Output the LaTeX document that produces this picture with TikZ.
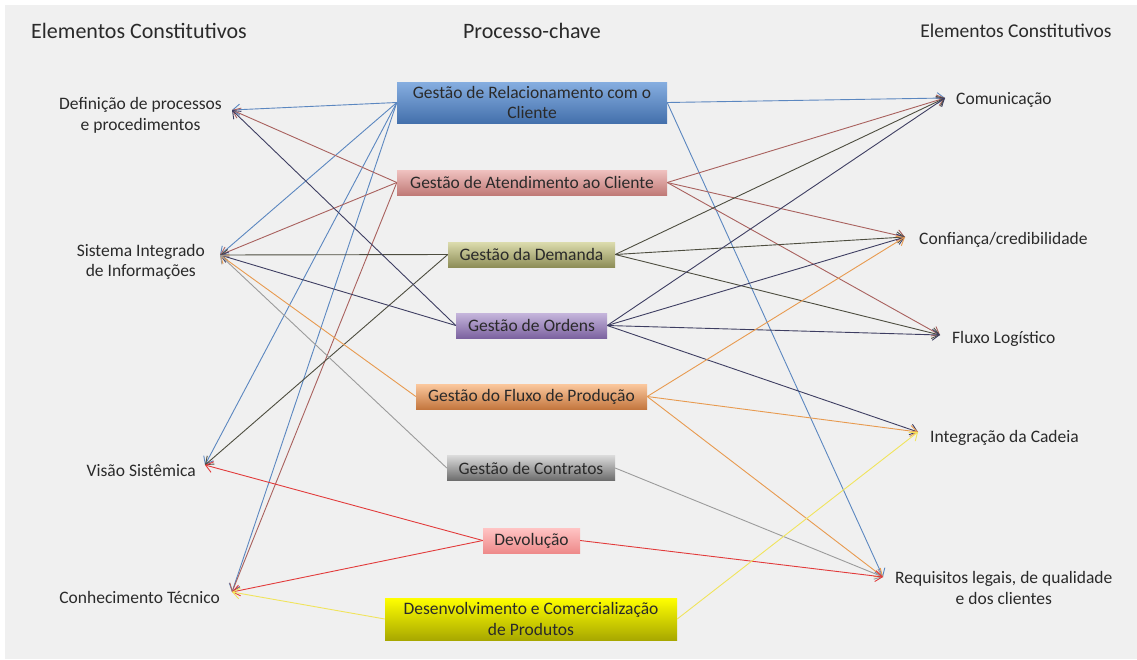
\documentclass[tikz,border=0pt]{standalone}
\usepackage{fontspec}
\setmainfont{Carlito}
\usetikzlibrary{positioning,arrows.meta}
\definecolor{bgGrey}{HTML}{F0F0F0}
\definecolor{txtGrey}{HTML}{2A2A2A}
% box fills
\definecolor{relTop}{HTML}{86AEE0}
\definecolor{relBot}{HTML}{4470AC}
\definecolor{atdTop}{HTML}{F0C2C0}
\definecolor{atdBot}{HTML}{C07A77}
\definecolor{demTop}{HTML}{DCDCAE}
\definecolor{demBot}{HTML}{8E8E58}
\definecolor{ordTop}{HTML}{C6B6DC}
\definecolor{ordBot}{HTML}{7C63A0}
\definecolor{flxTop}{HTML}{FBC89E}
\definecolor{flxBot}{HTML}{C4773F}
\definecolor{ctrTop}{HTML}{DADADA}
\definecolor{ctrBot}{HTML}{6C6C6C}
\definecolor{devTop}{HTML}{FFC4C4}
\definecolor{devBot}{HTML}{EE8A8A}
\definecolor{dsvTop}{HTML}{FFFF00}
\definecolor{dsvBot}{HTML}{A8A800}
% connector colours
\definecolor{relLn}{HTML}{5B87C0}
\definecolor{atdLn}{HTML}{A9615E}
\definecolor{demLn}{HTML}{4D4D3F}
\definecolor{ordLn}{HTML}{3E3E62}
\definecolor{flxLn}{HTML}{E89A4F}
\definecolor{ctrLn}{HTML}{9B9B9B}
\definecolor{devLn}{HTML}{E23B3B}
\definecolor{dsvLn}{HTML}{F0E45C}

\begin{document}
\begin{tikzpicture}[x=1pt,y=-1pt,>={Straight Barb[length=7pt,width=11pt]},
    lbl/.style={font=\fontsize{17.5}{20.5}\selectfont,text=txtGrey,align=center,inner sep=2pt},
    hdr/.style={font=\fontsize{22}{24}\selectfont,text=txtGrey},
    proc/.style={font=\fontsize{17.5}{20.5}\selectfont,text=txtGrey,align=center,inner sep=1pt,minimum height=25},
    link/.style={->,line width=0.9pt}]
            % Background
            \useasboundingbox (0,0) rectangle (1137,659);
            \fill[bgGrey] (5,5) rectangle (1137,659);
            \node[hdr] (hLeft) at (139,31) {Elementos Constitutivos};
            \node[hdr] (hMid) at (532,31) {Processo-chave};
            \node[hdr,font=\fontsize{19.5}{22}\selectfont] (hRight) at (1016,31) {Elementos Constitutivos};

            % Arrow ends, left
            \coordinate (cDef) at (232,110);
            \coordinate (cSis) at (220,255);
            \coordinate (cVis) at (205,465);
            \coordinate (cCon) at (232,592);
            \node[lbl,left=8pt of cDef,yshift=-5.5] (tDef) {Definição de processos\\e procedimentos};
            \node[lbl,left=13pt of cSis,yshift=-7] (tSis) {Sistema Integrado\\de Informações};
            \node[lbl,left=7pt of cVis,yshift=-6] (tVis) {Visão Sistêmica};
            \node[lbl,left=10pt of cCon,yshift=-5] (tCon) {Conhecimento Técnico};

            % Arrow ends, right
            \coordinate (cCom) at (945,98);
            \coordinate (cCnf) at (905,237);
            \coordinate (cFlx) at (940,335);
            \coordinate (cInt) at (918,432);
            \coordinate (cReq) at (883,577);
            \node[lbl,right=9pt of cCom,yshift=-2] (tCom) {Comunicação};
            \node[lbl,right=12pt of cCnf,yshift=-3] (tCnf) {Confiança/credibilidade};
            \node[lbl,right=10pt of cFlx,yshift=-4] (tFlx) {Fluxo Logístico};
            \node[lbl,right=10pt of cInt,yshift=-6] (tInt) {Integração da Cadeia};
            \node[lbl,right=10pt of cReq,yshift=-11] (tReq) {Requisitos legais, de qualidade\\e dos clientes};

            % Key processes
            \node[proc,minimum width=270,minimum height=41,top color=relTop,bottom color=relBot] (rel) at (532,102.5) {Gestão de Relacionamento com o\\Cliente};
            \node[proc,minimum width=270,top color=atdTop,bottom color=atdBot] (atd) at (532,182.5) {Gestão de Atendimento ao Cliente};
            \node[proc,minimum width=167,top color=demTop,bottom color=demBot] (dem) at (531.5,254.5) {Gestão da Demanda};
            \node[proc,minimum width=151,top color=ordTop,bottom color=ordBot] (ord) at (531.5,325.5) {Gestão de Ordens};
            \node[proc,minimum width=231,top color=flxTop,bottom color=flxBot] (flx) at (531.5,396.5) {Gestão do Fluxo de Produção};
            \node[proc,minimum width=168,top color=ctrTop,bottom color=ctrBot] (ctr) at (531,468) {Gestão de Contratos};
            \node[proc,minimum width=97,top color=devTop,bottom color=devBot] (dev) at (531.5,540.5) {Devolução};
            \node[proc,minimum width=292,minimum height=42,top color=dsvTop,bottom color=dsvBot] (dsv) at (531,619) {Desenvolvimento e Comercialização\\de Produtos};

            % Relacionamento
            \draw[link,relLn] (rel.west) -- (cDef);
            \draw[link,relLn] (rel.west) -- (cSis);
            \draw[link,relLn] (rel.west) -- (cVis);
            \draw[link,relLn] (rel.west) -- (cCon);
            \draw[link,relLn] (rel.east) -- (cCom);
            \draw[link,relLn] (rel.east) -- (cReq);
            % Atendimento
            \draw[link,atdLn] (atd.west) -- (cDef);
            \draw[link,atdLn] (atd.west) -- (cSis);
            \draw[link,atdLn] (atd.west) -- (cCon);
            \draw[link,atdLn] (atd.east) -- (cCom);
            \draw[link,atdLn] (atd.east) -- (cCnf);
            \draw[link,atdLn] (atd.east) -- (cFlx);
            % Demanda
            \draw[link,demLn] (dem.west) -- (cSis);
            \draw[link,demLn] (dem.west) -- (cVis);
            \draw[link,demLn] (dem.east) -- (cCom);
            \draw[link,demLn] (dem.east) -- (cCnf);
            \draw[link,demLn] (dem.east) -- (cFlx);
            % Ordens
            \draw[link,ordLn] (ord.west) -- (cDef);
            \draw[link,ordLn] (ord.west) -- (cSis);
            \draw[link,ordLn] (ord.east) -- (cCom);
            \draw[link,ordLn] (ord.east) -- (cCnf);
            \draw[link,ordLn] (ord.east) -- (cFlx);
            \draw[link,ordLn] (ord.east) -- (cInt);
            % Fluxo de Producao
            \draw[link,flxLn] (flx.west) -- (cSis);
            \draw[link,flxLn] (flx.east) -- (cCnf);
            \draw[link,flxLn] (flx.east) -- (cInt);
            \draw[link,flxLn] (flx.east) -- (cReq);
            % Contratos
            \draw[link,ctrLn] (ctr.west) -- (cSis);
            \draw[link,ctrLn] (ctr.east) -- (cReq);
            % Devolucao
            \draw[link,devLn] (dev.west) -- (cVis);
            \draw[link,devLn] (dev.west) -- (cCon);
            \draw[link,devLn] (dev.east) -- (cReq);
            % Desenvolvimento
            \draw[link,dsvLn] (dsv.west) -- (cCon);
            \draw[link,dsvLn] (dsv.east) -- (cInt);
\end{tikzpicture}
\end{document}
